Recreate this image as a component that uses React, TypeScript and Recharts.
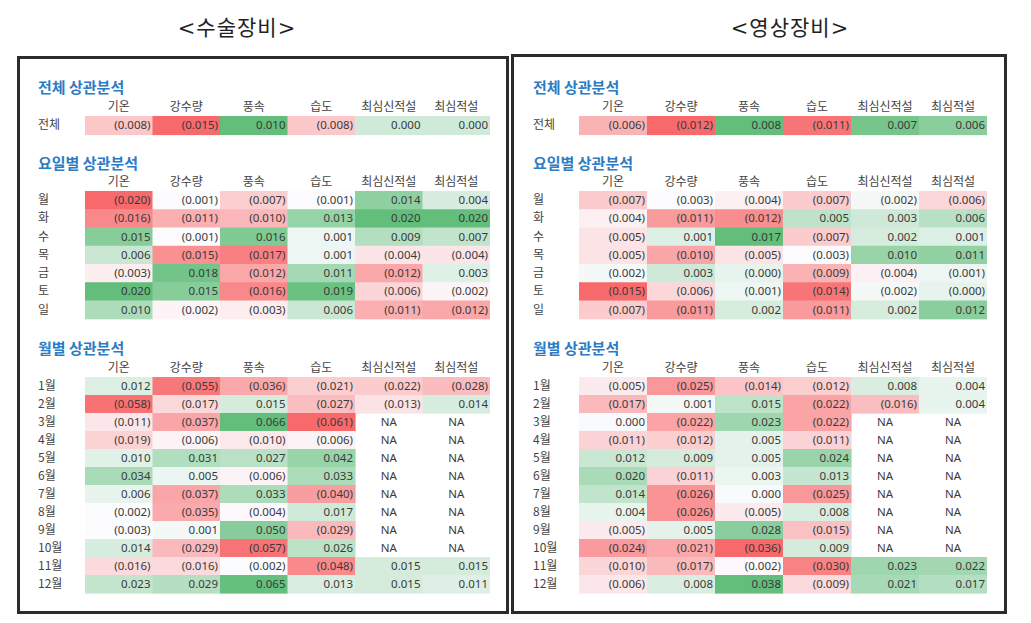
import React from "react";
import { Scatter, ScatterChart, XAxis, YAxis } from "recharts";

// correlation tables: 수술장비 (left) vs 영상장비 (right)
const COLUMNS = ["기온", "강수량", "풍속", "습도", "최심신적설", "최심적설"];
const OVERALL_ROWS = ["전체"];
const WEEKDAYS = ["월", "화", "수", "목", "금", "토", "일"];
const MONTHS = ["1월", "2월", "3월", "4월", "5월", "6월", "7월", "8월", "9월", "10월", "11월", "12월"];

// null = NA. (0.000) shown in the source is a tiny negative.
const surgeryOverall: (number | null)[][] = [
  [-0.008, -0.015, 0.01, -0.008, 0.0, 0.0],
];
const surgeryWeekday: (number | null)[][] = [
  [-0.02, -0.001, -0.007, -0.001, 0.014, 0.004],
  [-0.016, -0.011, -0.01, 0.013, 0.02, 0.02],
  [0.015, -0.001, 0.016, 0.001, 0.009, 0.007],
  [0.006, -0.015, -0.017, 0.001, -0.004, -0.004],
  [-0.003, 0.018, -0.012, 0.011, -0.012, 0.003],
  [0.02, 0.015, -0.016, 0.019, -0.006, -0.002],
  [0.01, -0.002, -0.003, 0.006, -0.011, -0.012],
];
const surgeryMonthly: (number | null)[][] = [
  [0.012, -0.055, -0.036, -0.021, -0.022, -0.028],
  [-0.058, -0.017, 0.015, -0.027, -0.013, 0.014],
  [-0.011, -0.037, 0.066, -0.061, null, null],
  [-0.019, -0.006, -0.01, -0.006, null, null],
  [0.01, 0.031, 0.027, 0.042, null, null],
  [0.034, 0.005, -0.006, 0.033, null, null],
  [0.006, -0.037, 0.033, -0.04, null, null],
  [-0.002, -0.035, -0.004, 0.017, null, null],
  [-0.003, 0.001, 0.05, -0.029, null, null],
  [0.014, -0.029, -0.057, 0.026, null, null],
  [-0.016, -0.016, -0.002, -0.048, 0.015, 0.015],
  [0.023, 0.029, 0.065, 0.013, 0.015, 0.011],
];

const imagingOverall: (number | null)[][] = [
  [-0.006, -0.012, 0.008, -0.011, 0.007, 0.006],
];
const imagingWeekday: (number | null)[][] = [
  [-0.007, -0.003, -0.004, -0.007, -0.002, -0.006],
  [-0.004, -0.011, -0.012, 0.005, 0.003, 0.006],
  [-0.005, 0.001, 0.017, -0.007, 0.002, 0.001],
  [-0.005, -0.01, -0.005, -0.003, 0.01, 0.011],
  [-0.002, 0.003, -0.0002, -0.009, -0.004, -0.001],
  [-0.015, -0.006, -0.001, -0.014, -0.002, -0.0002],
  [-0.007, -0.011, 0.002, -0.011, 0.002, 0.012],
];
const imagingMonthly: (number | null)[][] = [
  [-0.005, -0.025, -0.014, -0.012, 0.008, 0.004],
  [-0.017, 0.001, 0.015, -0.022, -0.016, 0.004],
  [0.0, -0.022, 0.023, -0.022, null, null],
  [-0.011, -0.012, 0.005, -0.011, null, null],
  [0.012, 0.009, 0.005, 0.024, null, null],
  [0.02, -0.011, 0.003, 0.013, null, null],
  [0.014, -0.026, 0.0, -0.025, null, null],
  [0.004, -0.026, -0.005, 0.008, null, null],
  [-0.005, 0.005, 0.028, -0.015, null, null],
  [-0.024, -0.021, -0.036, 0.009, null, null],
  [-0.01, -0.017, -0.002, -0.03, 0.023, 0.022],
  [-0.006, 0.008, 0.038, -0.009, 0.021, 0.017],
];

const FONT = "'Segoe UI', 'Noto Sans', 'Noto Sans CJK KR', sans-serif";
const KR_FONT = "'Noto Sans CJK KR', 'Noto Sans', sans-serif";
const HEADER_H = 20;

// excel-style 3 colour scale: min red, median white, max green
const RED = [248, 105, 107];
const WHITE = [252, 252, 255];
const GREEN = [99, 190, 123];

function mix(a: number[], b: number[], t: number) {
  const c = a.map((v, i) => Math.round(v + (b[i] - v) * t));
  return `rgb(${c[0]},${c[1]},${c[2]})`;
}

function colorScale(values: (number | null)[][]) {
  const flat = values.flat().filter((v): v is number => v !== null).sort((a, b) => a - b);
  const min = flat[0];
  const max = flat[flat.length - 1];
  const pos = (flat.length - 1) * 0.5;
  const lo = Math.floor(pos);
  const mid = flat[lo] + (flat[Math.min(lo + 1, flat.length - 1)] - flat[lo]) * (pos - lo);
  return (v: number) => {
    if (v <= mid) return mix(RED, WHITE, mid === min ? 1 : (v - min) / (mid - min));
    return mix(WHITE, GREEN, max === mid ? 0 : (v - mid) / (max - mid));
  };
}

function fmt(v: number) {
  const s = Math.abs(v).toFixed(3);
  return v < 0 ? `(${s})` : s;
}

type CellDatum = { row: string; col: string; value: number | null };

interface SectionProps {
  rows: string[];
  values: (number | null)[][];
  left: number;
  top: number;
  plotLeft: number;
  plotRight: number;
  rowHeight: number;
}

function Section({ rows, values, left, top, plotLeft, plotRight, rowHeight }: SectionProps) {
  const data: CellDatum[] = [];
  rows.forEach((r, i) => {
    COLUMNS.forEach((c, j) => data.push({ row: r, col: c, value: values[i][j] }));
  });
  const color = colorScale(values);
  const width = plotRight - left;
  const height = HEADER_H + rows.length * rowHeight + 2;
  const cw = (plotRight - plotLeft) / COLUMNS.length;

  const renderCell = (props: any) => {
    const { cx, cy, payload } = props;
    if (cx == null || cy == null) return <g />;
    const v = payload.value as number | null;
    return (
      <g>
        {v !== null ? (
          <rect
            x={cx - cw / 2}
            y={cy - rowHeight / 2}
            width={cw + 0.6}
            height={rowHeight + 0.6}
            fill={color(v)}
          />
        ) : null}
        <text
          x={v === null ? cx : cx + cw / 2 - 2}
          y={cy}
          dy={4}
          textAnchor={v === null ? "middle" : "end"}
          fontSize={11.5}
          fontFamily={FONT}
          fill="#3a3a3a"
        >
          {v === null ? "NA" : fmt(v)}
        </text>
      </g>
    );
  };

  return (
    <div style={{ position: "absolute", left, top }}>
      <ScatterChart width={width} height={height} margin={{ top: 0, right: 0, bottom: 2, left: 0 }}>
        <XAxis
          type="category"
          dataKey="col"
          allowDuplicatedCategory={false}
          orientation="top"
          height={HEADER_H}
          axisLine={false}
          tickLine={false}
          interval={0}
          tick={(p: any) => (
            <text x={p.x} y={HEADER_H - 5} textAnchor="middle" fontSize={12} fontFamily={KR_FONT} fill="#444">
              {p.payload.value}
            </text>
          )}
        />
        <YAxis
          type="category"
          dataKey="row"
          allowDuplicatedCategory={false}
          reversed
          width={plotLeft - left}
          axisLine={false}
          tickLine={false}
          interval={0}
          tick={(p: any) => (
            <text x={2} y={p.y} dy={4} textAnchor="start" fontSize={12} fontFamily={KR_FONT} fill="#444">
              {p.payload.value}
            </text>
          )}
        />
        <Scatter data={data} shape={renderCell} isAnimationActive={false} />
      </ScatterChart>
    </div>
  );
}

function SectionTitle({ x, y, text }: { x: number; y: number; text: string }) {
  return (
    <div
      style={{
        position: "absolute",
        left: x,
        top: y - 9,
        fontFamily: KR_FONT,
        fontSize: 15,
        fontWeight: 700,
        lineHeight: "17px",
        color: "#2b7cc4",
        whiteSpace: "nowrap",
      }}
    >
      {text}
    </div>
  );
}

interface PanelProps {
  labelX: number;
  plotLeft: number;
  plotRight: number;
  overall: (number | null)[][];
  weekday: (number | null)[][];
  monthly: (number | null)[][];
}

function Panel({ labelX, plotLeft, plotRight, overall, weekday, monthly }: PanelProps) {
  const left = labelX - 2;
  return (
    <>
      <SectionTitle x={labelX} y={87} text="전체 상관분석" />
      <Section rows={OVERALL_ROWS} values={overall} left={left} top={115.5 - HEADER_H} plotLeft={plotLeft} plotRight={plotRight} rowHeight={18.5} />
      <SectionTitle x={labelX} y={163} text="요일별 상관분석" />
      <Section rows={WEEKDAYS} values={weekday} left={left} top={190.5 - HEADER_H} plotLeft={plotLeft} plotRight={plotRight} rowHeight={18.25} />
      <SectionTitle x={labelX} y={348} text="월별 상관분석" />
      <Section rows={MONTHS} values={monthly} left={left} top={377 - HEADER_H} plotLeft={plotLeft} plotRight={plotRight} rowHeight={18} />
    </>
  );
}

function MainTitle({ cx, text }: { cx: number; text: string }) {
  return (
    <div
      style={{
        position: "absolute",
        left: cx - 100,
        width: 200,
        top: 14,
        textAlign: "center",
        fontFamily: "'DejaVu Serif', 'Noto Sans CJK KR', serif",
        fontSize: 21,
        letterSpacing: 1,
        lineHeight: "28px",
        color: "#222",
      }}
    >
      {text}
    </div>
  );
}

export default function App() {
  return (
    <div style={{ position: "absolute", left: 0, top: 0, width: 1031, height: 623, background: "#fff", overflow: "hidden" }}>
      <MainTitle cx={237} text="<수술장비>" />
      <MainTitle cx={790} text="<영상장비>" />
      <div style={{ position: "absolute", left: 17, top: 56, width: 492, height: 558, border: "3px solid #2b2b2b", boxSizing: "border-box" }} />
      <div style={{ position: "absolute", left: 511, top: 54, width: 496, height: 560, border: "3px solid #2b2b2b", boxSizing: "border-box" }} />
      <Panel labelX={38} plotLeft={85} plotRight={490} overall={surgeryOverall} weekday={surgeryWeekday} monthly={surgeryMonthly} />
      <Panel labelX={533} plotLeft={579} plotRight={987} overall={imagingOverall} weekday={imagingWeekday} monthly={imagingMonthly} />
    </div>
  );
}
